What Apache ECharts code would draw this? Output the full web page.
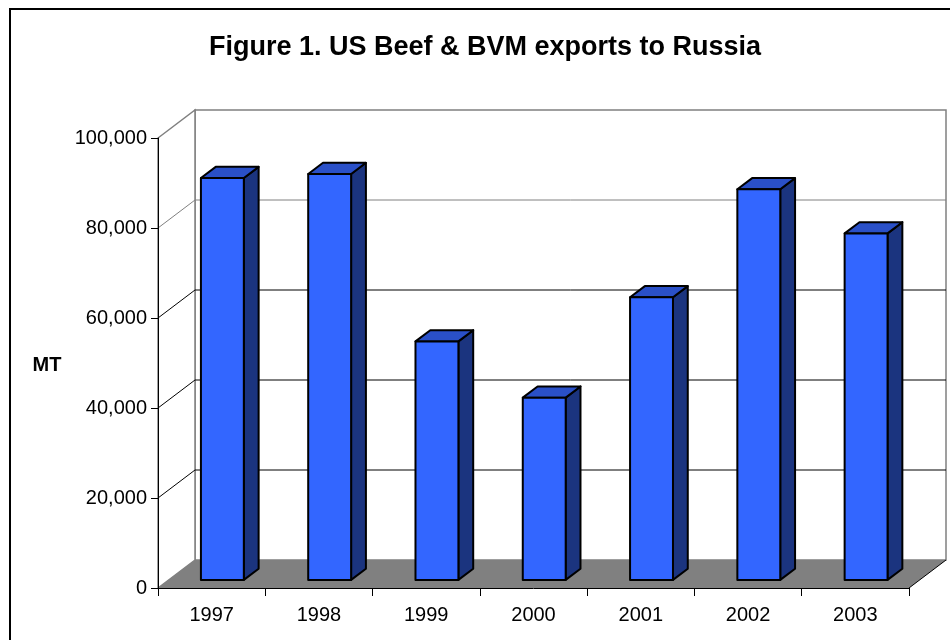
<!DOCTYPE html>
<html>
<head>
<meta charset="utf-8">
<title>US Beef & BVM exports to Russia</title>
<script src="https://cdn.jsdelivr.net/npm/echarts@6/dist/echarts.min.js"></script>
<style>
  html, body { margin: 0; padding: 0; background: #fff; }
  #chart { width: 950px; height: 640px; }
</style>
</head>
<body>
<div id="chart"></div>
<script>
// Annual exports, metric tons
const years = ['1997', '1998', '1999', '2000', '2001', '2002', '2003'];
const exportsMT = [89300, 90200, 53000, 40500, 62800, 86800, 77000];

// Value axis range
const yMin = 0;
const yMax = 100000;
const yStep = 20000;

const FONT = 'Arial, "Liberation Sans", sans-serif';
// Perspective offset from the front plane to the back wall
const DX = 37, DY = -28;
// Bar depth band (fraction of total depth) and width (fraction of category)
const BAR_FRONT = 0.29, BAR_BACK = 0.69, BAR_W = 0.4;

const chart = echarts.init(document.getElementById('chart'), null, { renderer: 'canvas' });

function fmt(v) {
  return v.toString().replace(/\B(?=(\d{3})+(?!\d))/g, ',');
}

// Back wall, side wall, floor and gridlines
function renderFrame(params, api) {
  const cs = params.coordSys;
  const x0 = cs.x, x1 = cs.x + cs.width;
  const yTop = api.coord([0, yMax])[1];
  const yBase = api.coord([0, yMin])[1];
  const children = [];

  // back wall
  children.push({
    type: 'polygon',
    shape: { points: [[x0 + DX, yTop + DY], [x1 + DX, yTop + DY], [x1 + DX, yBase + DY], [x0 + DX, yBase + DY]] },
    style: { fill: '#ffffff', stroke: '#808080', lineWidth: 1.5 }
  });
  // left side wall
  children.push({
    type: 'polygon',
    shape: { points: [[x0, yTop], [x0 + DX, yTop + DY], [x0 + DX, yBase + DY], [x0, yBase]] },
    style: { fill: '#ffffff', stroke: '#808080', lineWidth: 1.5 }
  });
  // gridlines: along the back wall and down the side wall
  for (let v = yMin + yStep; v < yMax; v += yStep) {
    const y = api.coord([0, v])[1];
    const col = v === yMax - yStep ? '#808080' : '#000000';
    children.push({
      type: 'polyline',
      shape: { points: [[x0, y], [x0 + DX, y + DY], [x1 + DX, y + DY]] },
      style: { stroke: col, lineWidth: 1, fill: null }
    });
  }
  // floor
  children.push({
    type: 'polygon',
    shape: { points: [[x0, yBase], [x1, yBase], [x1 + DX, yBase + DY], [x0 + DX, yBase + DY]] },
    style: { fill: '#808080', stroke: null }
  });
  children.push({
    type: 'line',
    shape: { x1: x1, y1: yBase, x2: x1 + DX, y2: yBase + DY },
    style: { stroke: '#000000', lineWidth: 1 }
  });
  return { type: 'group', children: children };
}

// 3D column: front, top and right side faces
function renderBar(params, api) {
  const idx = api.value(0);
  const val = api.value(1);
  const topPt = api.coord([idx, val]);
  const basePt = api.coord([idx, 0]);
  const band = api.size([1, 0])[0];
  const w = band * BAR_W;
  const fx = BAR_FRONT * DX, fy = BAR_FRONT * DY;
  const dx = (BAR_BACK - BAR_FRONT) * DX, dy = (BAR_BACK - BAR_FRONT) * DY;
  const xl = topPt[0] - w / 2 + fx, xr = xl + w;
  const yt = topPt[1] + fy, yb = basePt[1] + fy;
  const edge = { stroke: '#000000', lineWidth: 2, lineJoin: 'round' };
  return {
    type: 'group',
    children: [
      {
        type: 'polygon',
        shape: { points: [[xr, yt], [xr + dx, yt + dy], [xr + dx, yb + dy], [xr, yb]] },
        style: Object.assign({ fill: '#1B347F' }, edge)
      },
      {
        type: 'polygon',
        shape: { points: [[xl, yt], [xr, yt], [xr + dx, yt + dy], [xl + dx, yt + dy]] },
        style: Object.assign({ fill: '#2A50C8' }, edge)
      },
      {
        type: 'rect',
        shape: { x: xl, y: yt, width: w, height: yb - yt },
        style: Object.assign({ fill: '#3366FF' }, edge)
      }
    ]
  };
}

const option = {
  backgroundColor: '#ffffff',
  animation: false,
  grid: { left: 158, right: 41, top: 138, bottom: 52, containLabel: false },
  xAxis: {
    type: 'category',
    data: years,
    boundaryGap: true,
    z: 10,
    axisLine: { show: true, lineStyle: { color: '#000000', width: 1 } },
    axisTick: { show: true, length: 8, interval: 0, lineStyle: { color: '#000000' } },
    axisLabel: { color: '#000000', fontSize: 20, fontFamily: FONT, margin: 17, interval: 0 },
    splitLine: { show: false }
  },
  yAxis: {
    type: 'value',
    min: yMin,
    max: yMax,
    interval: yStep,
    z: 10,
    axisLine: { show: true, lineStyle: { color: '#000000', width: 1 } },
    axisTick: { show: true, length: 7, lineStyle: { color: '#000000' } },
    axisLabel: { color: '#000000', fontSize: 20, fontFamily: FONT, margin: 11, formatter: fmt },
    splitLine: { show: false }
  },
  series: [
    {
      type: 'custom',
      name: 'frame',
      renderItem: renderFrame,
      data: [[0, 0]],
      z: 1,
      silent: true
    },
    {
      type: 'custom',
      name: 'Exports (MT)',
      renderItem: renderBar,
      encode: { x: 0, y: 1 },
      data: years.map((y, i) => [i, exportsMT[i]]),
      z: 3
    }
  ],
  graphic: [
    {
      type: 'rect',
      z: 100,
      shape: { x: 10, y: 9, width: 1000, height: 1000 },
      style: { fill: null, stroke: '#000000', lineWidth: 2 }
    },
    {
      type: 'text',
      z: 100,
      x: 485,
      y: 48,
      style: {
        text: 'Figure 1. US Beef & BVM exports to Russia',
        font: 'bold 27px ' + FONT,
        fill: '#000000',
        align: 'center',
        verticalAlign: 'middle'
      }
    },
    {
      type: 'text',
      z: 100,
      x: 47,
      y: 365,
      style: {
        text: 'MT',
        font: 'bold 20px ' + FONT,
        fill: '#000000',
        align: 'center',
        verticalAlign: 'middle'
      }
    }
  ]
};

chart.setOption(option);
</script>
</body>
</html>
